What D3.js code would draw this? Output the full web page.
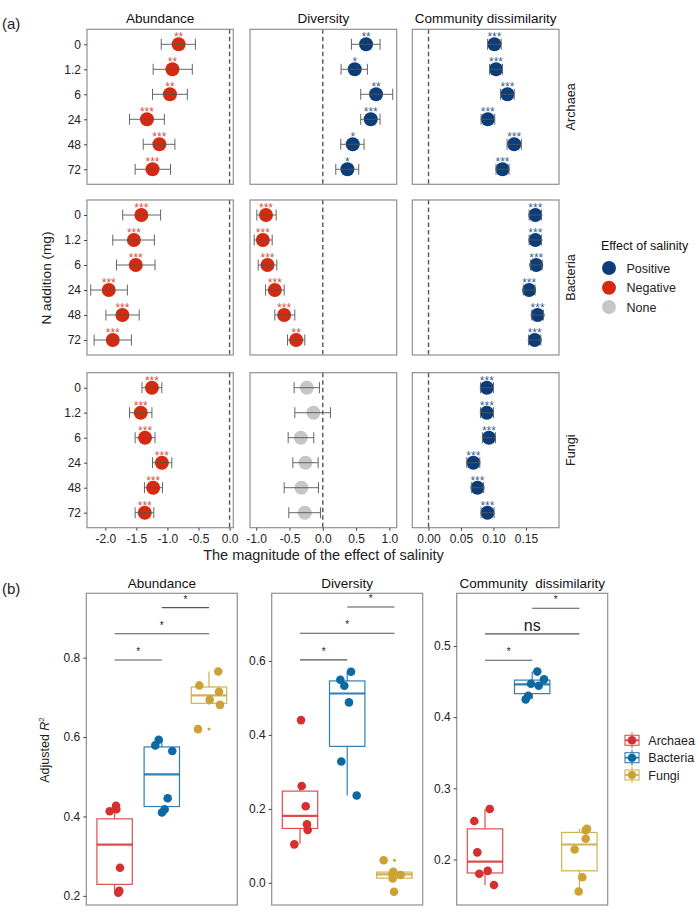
<!DOCTYPE html>
<html><head><meta charset="utf-8">
<script src="https://cdn.jsdelivr.net/npm/d3@7"></script>
<style>
body{margin:0;background:#fff}
text{font-family:"Liberation Sans",Arial,sans-serif}
</style>
</head><body>
<script>
// ---------------- DATA: part (a) ----------------
const nLevels = ["0","1.2","6","24","48","72"];
const kingdoms = ["Archaea","Bacteria","Fungi"];
const metrics = ["Abundance","Diversity","Community dissimilarity"];
const effectLevels = ["Positive","Negative","None"];

// each row: [mean, lower CI, upper CI]
const archaeaAbundance = [[-0.82,-1.10,-0.55],[-0.92,-1.23,-0.60],[-0.96,-1.24,-0.68],[-1.33,-1.61,-1.05],[-1.13,-1.39,-0.88],[-1.24,-1.52,-0.95]];
const archaeaAbundanceSig = ["**","**","**","***","***","***"];
const archaeaDiversity = [[0.65,0.43,0.86],[0.48,0.275,0.67],[0.80,0.57,1.05],[0.72,0.57,0.86],[0.45,0.27,0.62],[0.37,0.195,0.54]];
const archaeaDiversitySig = ["**","*","**","***","*","*"];
const archaeaDissim = [[0.1015,0.091,0.112],[0.104,0.094,0.114],[0.1215,0.111,0.132],[0.0913,0.081,0.102],[0.132,0.121,0.143],[0.114,0.104,0.124]];
const archaeaDissimSig = ["***","***","***","***","***","***"];

const bacteriaAbundance = [[-1.42,-1.72,-1.11],[-1.54,-1.88,-1.21],[-1.51,-1.82,-1.20],[-1.945,-2.235,-1.645],[-1.725,-1.99,-1.455],[-1.88,-2.18,-1.58]];
const bacteriaAbundanceSig = ["***","***","***","***","***","***"];
const bacteriaDiversity = [[-0.853,-0.99,-0.70],[-0.90,-1.03,-0.76],[-0.83,-0.97,-0.69],[-0.72,-0.86,-0.58],[-0.58,-0.72,-0.42],[-0.40,-0.53,-0.27]];
const bacteriaDiversitySig = ["***","***","***","***","***","**"];
const bacteriaDissim = [[0.1646,0.155,0.174],[0.1646,0.155,0.174],[0.166,0.157,0.175],[0.155,0.146,0.164],[0.168,0.159,0.177],[0.1636,0.154,0.173]];
const bacteriaDissimSig = ["***","***","***","***","***","***"];

const fungiAbundance = [[-1.25,-1.41,-1.09],[-1.43,-1.61,-1.25],[-1.36,-1.52,-1.20],[-1.09,-1.24,-0.93],[-1.23,-1.37,-1.08],[-1.365,-1.52,-1.22]];
const fungiAbundanceSig = ["***","***","***","***","***","***"];
const fungiDiversity = [[-0.24,-0.43,-0.05],[-0.14,-0.42,0.115],[-0.33,-0.52,-0.135],[-0.26,-0.45,-0.07],[-0.32,-0.58,-0.065],[-0.27,-0.51,-0.035]];
const fungiDiversitySig = ["","","","","",""];
const fungiDissim = [[0.0898,0.080,0.100],[0.0898,0.080,0.100],[0.093,0.083,0.103],[0.069,0.059,0.079],[0.0754,0.066,0.085],[0.0908,0.081,0.101]];
const fungiDissimSig = ["***","***","***","***","***","***"];

const xTicksAbund = [-2.0,-1.5,-1.0,-0.5,0.0];
const xTicksDiv = [-1.0,-0.5,0.0,0.5,1.0];
const xTicksDissim = [0.00,0.05,0.10,0.15];

// ---------------- DATA: part (b) ----------------
const groups = ["Archaea","Bacteria","Fungi"];
// box stats: [lower whisker, Q1, median, Q3, upper whisker]
const boxAbundance = [[0.211,0.229,0.329,0.394,0.428],[0.410,0.425,0.506,0.575,0.593],[0.681,0.685,0.705,0.726,0.765]];
const outAbundance = [[],[],[0.620]];
const ptsAbundance = [[0.427,0.418,0.413,0.271,0.213,0.208],[0.593,0.579,0.565,0.446,0.418,0.410],[0.730,0.765,0.714,0.694,0.681,0.620]];
const jitAbundance = [[0.03,0.036,-0.104,0.114,0.10,0.078],[-0.066,-0.138,0.222,0.125,0.061,0.004],[-0.205,0.197,0.212,0.015,0.233,-0.233]];
const sigAbundance = ["*","*","*"];
const sigYAbundance = [0.794,0.860,0.926];

const boxDiversity = [[0.105,0.147,0.181,0.248,0.262],[0.236,0.369,0.512,0.546,0.571],[0.012,0.0127,0.0227,0.029,0.030]];
const outDiversity = [[0.440],[],[0.061,-0.024]];
const ptsDiversity = [[0.440,0.262,0.207,0.158,0.143,0.104],[0.571,0.549,0.533,0.488,0.328,0.236],[0.061,0.030,0.024,0.012,0.021,-0.024]];
const jitDiversity = [[0.021,0.036,0.121,0.148,0.163,-0.121],[0.081,-0.146,-0.061,0.038,-0.125,0.201],[-0.227,-0.023,-0.044,-0.036,0.133,-0.008]];
const sigDiversity = ["*","*","*"];
const sigYDiversity = [0.603,0.675,0.746];

const boxDissim = [[0.164,0.181,0.197,0.243,0.271],[0.425,0.433,0.446,0.452,0.464],[0.155,0.184,0.221,0.238,0.243]];
const outDissim = [[],[],[]];
const ptsDissim = [[0.271,0.254,0.210,0.180,0.184,0.164],[0.464,0.453,0.447,0.444,0.430,0.425],[0.243,0.241,0.229,0.214,0.175,0.155]];
const jitDissim = [[0.10,-0.227,-0.163,-0.121,0.057,0.19],[0.108,0.25,-0.025,0.138,-0.083,-0.138],[0.161,0.133,0.133,-0.10,0.061,-0.015]];
const sigDissim = ["*","ns","*"];
const sigYDissim = [0.480,0.517,0.553];

const sigPairs = [[0,1],[0,2],[1,2]];
const yTicksBAbund = [0.2,0.4,0.6,0.8];
const yTicksBDiv = [0.0,0.2,0.4,0.6];
const yTicksBDissim = [0.2,0.3,0.4,0.5];
const bTitles = ["Abundance","Diversity","Community  dissimilarity"];

// ---------------- STYLE ----------------
const effColor = {Positive:"#0B3D7A", Negative:"#D42A10", None:"#C6C6C6"};
const grpColor = {Archaea:"#D62F2F", Bacteria:"#0C69A3", Fungi:"#CBA233"};
const borderCol = "#8f8f8f";
const fmtMinus = f => v => f(v).replace("\u2212","-");

const svg = d3.select("body").append("svg")
  .attr("width",700).attr("height",914).style("display","block");

// ================= PART (a) =================
const effectTable = [
  [[archaeaAbundance,archaeaAbundanceSig],[archaeaDiversity,archaeaDiversitySig],[archaeaDissim,archaeaDissimSig]],
  [[bacteriaAbundance,bacteriaAbundanceSig],[bacteriaDiversity,bacteriaDiversitySig],[bacteriaDissim,bacteriaDissimSig]],
  [[fungiAbundance,fungiAbundanceSig],[fungiDiversity,fungiDiversitySig],[fungiDissim,fungiDissimSig]]
];
const colX = [87, 250, 412.3];
const colW = [146.3, 146.7, 146.7];
const rowY = [29.3, 200, 372.7];
const rowH = 155;
const xDomA = [[-2.295,0.06],[-1.093,1.11],[-0.025,0.201]];
const xTicksA = [xTicksAbund, xTicksDiv, xTicksDissim];
const xFmtA = [fmtMinus(d3.format(".1f")), fmtMinus(d3.format(".1f")), fmtMinus(d3.format(".2f"))];
const xScA = xDomA.map((d,j)=> d3.scaleLinear().domain(d).range([colX[j], colX[j]+colW[j]]));

svg.append("text").attr("x",2).attr("y",29).attr("font-size",15).attr("fill","#222").text("(a)");

metrics.forEach((m,j)=>{
  svg.append("text").attr("x",colX[j]+colW[j]/2).attr("y",23.3)
    .attr("text-anchor","middle").attr("font-size",13.5).attr("fill","#111").text(m);
});

kingdoms.forEach((k,i)=>{
  const y = d3.scalePoint().domain(nLevels).range([rowY[i], rowY[i]+rowH]).padding(0.6);
  metrics.forEach((m,j)=>{
    const x = xScA[j];
    const [vals, sigs] = effectTable[i][j];
    const g = svg.append("g");
    // zero line
    g.append("line").attr("x1",x(0)).attr("x2",x(0)).attr("y1",rowY[i]).attr("y2",rowY[i]+rowH)
      .attr("stroke","#555").attr("stroke-width",1.4).attr("stroke-dasharray","4.5,3");
    const rows = vals.map((v,r)=>({lvl:nLevels[r], mean:v[0], lo:v[1], hi:v[2], sig:sigs[r],
      eff: sigs[r]==="" ? "None" : (v[0]>0 ? "Positive" : "Negative")}));
    g.selectAll("circle.pt").data(rows).join("circle")
      .attr("cx",d=>x(d.mean)).attr("cy",d=>y(d.lvl)).attr("r",7)
      .attr("fill",d=>effColor[d.eff]);
    // error bars
    g.selectAll("line.eb").data(rows).join("line")
      .attr("x1",d=>x(d.lo)).attr("x2",d=>x(d.hi)).attr("y1",d=>y(d.lvl)).attr("y2",d=>y(d.lvl))
      .attr("stroke","#555").attr("stroke-width",1).attr("stroke-opacity",0.9);
    ["lo","hi"].forEach(side=>{
      g.selectAll("line.cap"+side).data(rows).join("line")
        .attr("x1",d=>x(d[side])).attr("x2",d=>x(d[side]))
        .attr("y1",d=>y(d.lvl)-5.5).attr("y2",d=>y(d.lvl)+5.5)
        .attr("stroke","#666").attr("stroke-width",1);
    });
    g.selectAll("text.sig").data(rows.filter(d=>d.sig!=="")).join("text")
      .attr("x",d=>x(d.mean)).attr("y",d=>y(d.lvl)-3.2)
      .attr("text-anchor","middle").attr("font-size",12)
      .attr("fill",d=>effColor[d.eff]).attr("fill-opacity",0.85).text(d=>d.sig);
    // border
    g.append("rect").attr("x",colX[j]).attr("y",rowY[i]).attr("width",colW[j]).attr("height",rowH)
      .attr("fill","none").attr("stroke",borderCol).attr("stroke-width",1.2);
    if(j===0){
      const ax = svg.append("g").attr("transform",`translate(${colX[0]},0)`)
        .call(d3.axisLeft(y).tickSize(3).tickPadding(3));
      ax.select(".domain").remove();
      ax.selectAll("line").attr("stroke","#444");
      ax.selectAll("text").attr("font-size",12).attr("fill","#222")
        .style("font-family",'"Liberation Sans",Arial,sans-serif');
    }
    if(i===2){
      const ax = svg.append("g").attr("transform",`translate(0,${rowY[2]+rowH})`)
        .call(d3.axisBottom(x).tickValues(xTicksA[j]).tickFormat(xFmtA[j]).tickSize(3).tickPadding(3.5));
      ax.select(".domain").remove();
      ax.selectAll("line").attr("stroke","#444");
      ax.selectAll("text").attr("font-size",12).attr("fill","#222")
        .style("font-family",'"Liberation Sans",Arial,sans-serif');
    }
  });
  svg.append("text")
    .attr("transform",`translate(574.5,${rowY[i]+rowH/2}) rotate(-90)`)
    .attr("text-anchor","middle").attr("font-size",12.7).attr("fill","#222").text(k);
});

svg.append("text").attr("transform","translate(51,278) rotate(-90)")
  .attr("text-anchor","middle").attr("font-size",13.6).attr("fill","#222").text("N addition (mg)");
svg.append("text").attr("x",323.5).attr("y",560)
  .attr("text-anchor","middle").attr("font-size",14.5).attr("fill","#222")
  .text("The magnitude of the effect of salinity");

// legend (a)
svg.append("text").attr("x",601).attr("y",250).attr("font-size",12.5).attr("fill","#111").text("Effect of salinity");
const legYA = [268, 287.7, 307];
effectLevels.forEach((e,k)=>{
  svg.append("circle").attr("cx",609).attr("cy",legYA[k]).attr("r",7).attr("fill",effColor[e]);
  svg.append("text").attr("x",626.5).attr("y",legYA[k]).attr("dy","0.36em")
    .attr("font-size",12.5).attr("fill","#222").text(e);
});

// ================= PART (b) =================
svg.append("text").attr("x",2).attr("y",594).attr("font-size",15).attr("fill","#222").text("(b)");
const colXB = [86.3, 271.7, 456.7];
const wB = 151, topB = 593.3, botB = 905;
const yDomB = [[0.177,0.962],[-0.060,0.783],[0.136,0.574]];
const bPanels = [
  {box:boxAbundance, out:outAbundance, pts:ptsAbundance, jit:jitAbundance, sig:sigAbundance, sigY:sigYAbundance, ticks:yTicksBAbund},
  {box:boxDiversity, out:outDiversity, pts:ptsDiversity, jit:jitDiversity, sig:sigDiversity, sigY:sigYDiversity, ticks:yTicksBDiv},
  {box:boxDissim, out:outDissim, pts:ptsDissim, jit:jitDissim, sig:sigDissim, sigY:sigYDissim, ticks:yTicksBDissim}
];

bPanels.forEach((p,j)=>{
  const x = d3.scalePoint().domain(groups).range([colXB[j], colXB[j]+wB]).padding(0.6);
  const y = d3.scaleLinear().domain(yDomB[j]).range([botB, topB]);
  const step = x.step(), bw = 0.75*step;
  const g = svg.append("g");
  svg.append("text").attr("x",colXB[j]+wB/2).attr("y",588).attr("text-anchor","middle")
    .attr("font-size",13.5).attr("fill","#111").style("white-space","pre").text(bTitles[j]);
  groups.forEach((grp,gi)=>{
    const [lw,q1,md,q3,uw] = p.box[gi];
    const cx = x(grp), col = grpColor[grp];
    const bg = g.append("g").attr("stroke",col).attr("stroke-opacity",0.85);
    bg.append("line").attr("x1",cx).attr("x2",cx).attr("y1",y(q3)).attr("y2",y(uw)).attr("stroke-width",1.2);
    bg.append("line").attr("x1",cx).attr("x2",cx).attr("y1",y(q1)).attr("y2",y(lw)).attr("stroke-width",1.2);
    bg.append("rect").attr("x",cx-bw/2).attr("y",y(q3)).attr("width",bw).attr("height",y(q1)-y(q3))
      .attr("fill","#fff").attr("stroke-width",1.2);
    bg.append("line").attr("x1",cx-bw/2).attr("x2",cx+bw/2).attr("y1",y(md)).attr("y2",y(md)).attr("stroke-width",2.2);
    g.selectAll(null).data(p.out[gi]).join("circle")
      .attr("cx",cx).attr("cy",d=>y(d)).attr("r",1.5).attr("fill",col);
  });
  groups.forEach((grp,gi)=>{
    const cx = x(grp), col = grpColor[grp];
    g.selectAll(null).data(p.pts[gi].map((v,k)=>({v, dx:p.jit[gi][k]}))).join("circle")
      .attr("cx",d=>cx + d.dx*step).attr("cy",d=>y(d.v)).attr("r",4.3).attr("fill",col);
  });
  // significance brackets
  sigPairs.forEach((pr,k)=>{
    const x1 = x(groups[pr[0]]), x2 = x(groups[pr[1]]), yy = y(p.sigY[k]);
    g.append("line").attr("x1",x1).attr("x2",x2).attr("y1",yy).attr("y2",yy)
      .attr("stroke","#555").attr("stroke-width",1.1);
    const isNs = p.sig[k]==="ns";
    g.append("text").attr("x",(x1+x2)/2).attr("y", isNs ? yy-2.5 : yy-5)
      .attr("text-anchor","middle").attr("font-size", isNs ? 16 : 10).attr("fill","#222").text(p.sig[k]);
  });
  g.append("rect").attr("x",colXB[j]).attr("y",topB).attr("width",wB).attr("height",botB-topB)
    .attr("fill","none").attr("stroke",borderCol).attr("stroke-width",1.2);
  const ax = svg.append("g").attr("transform",`translate(${colXB[j]},0)`)
    .call(d3.axisLeft(y).tickValues(p.ticks).tickFormat(fmtMinus(d3.format(".1f"))).tickSize(3).tickPadding(3));
  ax.select(".domain").remove();
  ax.selectAll("line").attr("stroke","#444");
  ax.selectAll("text").attr("font-size",12).attr("fill","#222")
    .style("font-family",'"Liberation Sans",Arial,sans-serif');
});

// y title (b)
const yt = svg.append("text").attr("transform","translate(49,750) rotate(-90)")
  .attr("text-anchor","middle").attr("font-size",12.5).attr("fill","#222");
yt.append("tspan").text("Adjusted ");
yt.append("tspan").attr("font-style","italic").text("R");
yt.append("tspan").attr("font-size",8).attr("dy",-5).text("2");

// legend (b)
const legYB = [740.3, 757.7, 775];
groups.forEach((grp,k)=>{
  const cx = 632, cy = legYB[k], col = grpColor[grp];
  const lg = svg.append("g").attr("stroke",col).attr("stroke-opacity",0.85);
  lg.append("line").attr("x1",cx).attr("x2",cx).attr("y1",cy-8).attr("y2",cy+8).attr("stroke-width",1.1);
  lg.append("rect").attr("x",cx-7).attr("y",cy-5).attr("width",14).attr("height",10).attr("fill","#fff").attr("stroke-width",1.1);
  lg.append("line").attr("x1",cx-7).attr("x2",cx+7).attr("y1",cy).attr("y2",cy).attr("stroke-width",1.8);
  svg.append("circle").attr("cx",cx).attr("cy",cy).attr("r",4.3).attr("fill",col);
  svg.append("text").attr("x",648.3).attr("y",cy).attr("dy","0.36em").attr("font-size",12.5).attr("fill","#222").text(grp);
});
</script>
</body></html>
